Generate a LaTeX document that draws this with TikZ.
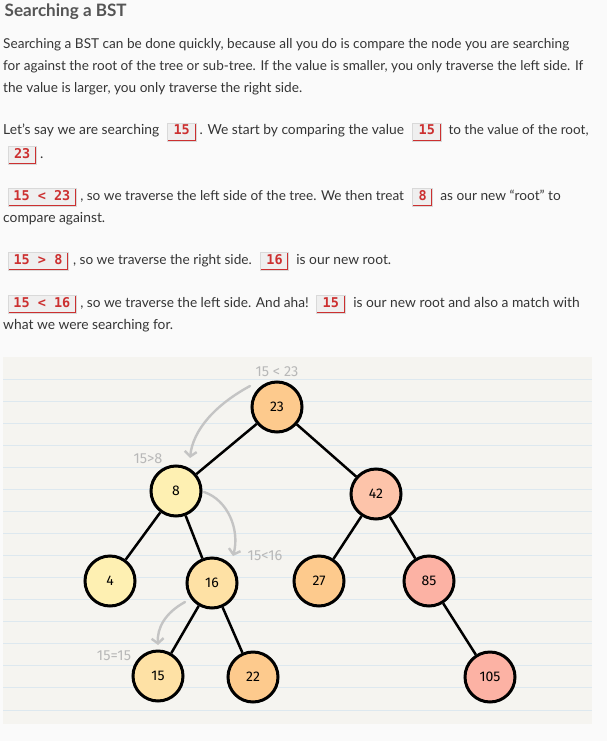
\documentclass[tikz,border=0pt]{standalone}
\usepackage{fontspec}
\usepackage{graphicx}
\setmainfont{Lato}
\newfontfamily\chipfont{DejaVu Sans Mono}
\newfontfamily\handfont{Fira Sans}
\usetikzlibrary{arrows.meta}
\definecolor{pagebg}{HTML}{FAFAFA}
\definecolor{panelbg}{HTML}{F5F4F0}
\definecolor{rulecol}{HTML}{DDE8EF}
\definecolor{bodytext}{HTML}{353535}
\definecolor{titlegray}{HTML}{555555}
\definecolor{chipbg}{HTML}{EFEFEF}
\definecolor{chipedge}{HTML}{D9D9D9}
\definecolor{chipred}{HTML}{CC3030}
\definecolor{arrowgray}{HTML}{C4C4C4}
\definecolor{labelgray}{HTML}{B8B8B8}
\definecolor{cOrange}{HTML}{FDCA8D}
\definecolor{cYellow}{HTML}{FEF0B2}
\definecolor{cLight}{HTML}{FEE1A5}
\definecolor{cPeach}{HTML}{FDC4AA}
\definecolor{cSalmon}{HTML}{FCB2A4}
\newcommand\fitw[2]{\resizebox{#1pt}{!}{#2}}
\tikzset{
  txt/.style={inner sep=0pt, anchor=base west, text=bodytext, font=\fontsize{14}{16}\selectfont},
  ttl/.style={inner sep=0pt, anchor=base west, text=titlegray, font=\fontsize{18}{20}\selectfont\bfseries},
  chip/.style={anchor=base west, fill=chipbg, draw=chipedge, line width=0.6pt,
    inner xsep=0pt, inner ysep=0pt, minimum height=18pt, text height=9pt, text depth=3pt,
    text=chipred, font=\chipfont\bfseries\fontsize{13.5}{15}\selectfont,
    path picture={\draw[chipred, line width=2.6pt]
      (path picture bounding box.north east) -- (path picture bounding box.south east)
      -- (path picture bounding box.south west);}},
  tnode/.style={circle, draw=black, line width=3pt, minimum size=50pt, inner sep=0pt,
    font=\handfont\fontsize{14}{16}\selectfont},
  treeedge/.style={line width=2.5pt, draw=black},
  garrow/.style={draw=arrowgray, line width=2.4pt, line cap=round,
    -{Straight Barb[length=5pt,width=12pt]}},
  glabel/.style={inner sep=0pt, text=labelgray, font=\handfont\fontsize{14.5}{16}\selectfont}
}
\begin{document}
\begin{tikzpicture}[x=1pt, y=-1pt]
\path[fill=pagebg] (0,0) rectangle (607,741);
\useasboundingbox (0,0) rectangle (607,741);

% ---------- text ----------
\node[ttl] (title) at (4.5,17) {\fitw{122}{Searching a BST}};
\node[txt] (l1) at (3,49) {\fitw{566}{Searching a BST can be done quickly, because all you do is compare the node you are searching}};
\node[txt] (l2) at (3,71) {\fitw{580}{for against the root of the tree or sub-tree. If the value is smaller, you only traverse the left side. If}};
\node[txt] (l3) at (3,93) {\fitw{299}{the value is larger, you only traverse the right side.}};

\node[txt] (l4a) at (3,135) {\fitw{156}{Let’s say we are searching}};
\node[chip, minimum width=28.3pt] (c4a) at (167.2,135) {15};
\node[txt] (l4b) at (199.5,135) {\fitw{204.3}{. We start by comparing the value}};
\node[chip, minimum width=28.3pt] (c4b) at (412.3,135) {15};
\node[txt] (l4c) at (448.3,135) {\fitw{140}{to the value of the root,}};

\node[chip, minimum width=28.3pt] (c5) at (7.7,158) {23};
\node[txt] (l5) at (40,158) {.};

\node[chip, minimum width=67.8pt] (c6a) at (7.7,200) {15 < 23};
\node[txt] (l6a) at (80.1,200) {\fitw{323.7}{, so we traverse the left side of the tree. We then treat}};
\node[chip, minimum width=20.1pt] (c6b) at (412.3,200) {8};
\node[txt] (l6b) at (440.2,200) {\fitw{120.4}{as our new “root” to}};
\node[txt] (l7) at (3,222) {\fitw{102}{compare against.}};

\node[chip, minimum width=60pt] (c8a) at (7.7,264) {15 > 8};
\node[txt] (l8a) at (72.8,264) {\fitw{178.8}{, so we traverse the right side.}};
\node[chip, minimum width=28.2pt] (c8b) at (260.2,264) {16};
\node[txt] (l8b) at (296.2,264) {\fitw{94.8}{is our new root.}};

\node[chip, minimum width=67.8pt] (c9a) at (7.7,307) {15 < 16};
\node[txt] (l9a) at (80.1,307) {\fitw{228.5}{, so we traverse the left side. And aha!}};
\node[chip, minimum width=28.3pt] (c9b) at (316.3,307) {15};
\node[txt] (l9b) at (353.1,307) {\fitw{226.5}{is our new root and also a match with}};
\node[txt] (l10) at (3,329) {\fitw{170}{what we were searching for.}};

% ---------- panel ----------
\path[fill=panelbg] (3,357) rectangle (592,724);
\foreach \k in {0,...,15} {
  \draw[rulecol, line width=1pt] (3,379+22.07*\k) -- (592,379+22.07*\k);
}

% ---------- tree ----------
\node[tnode, fill=cOrange] (n23) at (277,407) {23};
\node[tnode, fill=cYellow] (n8) at (176,491) {8};
\node[tnode, fill=cPeach] (n42) at (376,494) {42};
\node[tnode, fill=cYellow] (n4) at (110,581) {4};
\node[tnode, fill=cLight] (n16) at (212,583) {16};
\node[tnode, fill=cOrange] (n27) at (319,581) {27};
\node[tnode, fill=cSalmon] (n85) at (429,581) {85};
\node[tnode, fill=cLight] (n15) at (158,676) {15};
\node[tnode, fill=cOrange] (n22) at (253,677) {22};
\node[tnode, fill=cSalmon] (n105) at (490,677) {105};

\draw[treeedge] (n23) -- (n8);
\draw[treeedge] (n23) -- (n42);
\draw[treeedge] (n8) -- (n4);
\draw[treeedge] (n8) -- (n16);
\draw[treeedge] (n42) -- (n27);
\draw[treeedge] (n42) -- (n85);
\draw[treeedge] (n16) -- (n15);
\draw[treeedge] (n16) -- (n22);
\draw[treeedge] (n85) -- (n105);

% ---------- search annotations ----------
\node[glabel] (g1) at (277,372) {15 < 23};
\node[glabel] (g2) at (148,459) {15>8};
\node[glabel] (g3) at (265,556) {15<16};
\node[glabel] (g4) at (114,656) {15=15};

\coordinate (a1s) at (250,386);
\coordinate (a1e) at (190,458);
\coordinate (a2s) at (204,492);
\coordinate (a2e) at (233,556);
\coordinate (a3s) at (185,602);
\coordinate (a3e) at (158,645);
\draw[garrow] (a1s) .. controls (215,405) and (193,430) .. (a1e);
\draw[garrow] (a2s) .. controls (228,500) and (240,530) .. (a2e);
\draw[garrow] (a3s) .. controls (165,613) and (157,628) .. (a3e);
\end{tikzpicture}
\end{document}
